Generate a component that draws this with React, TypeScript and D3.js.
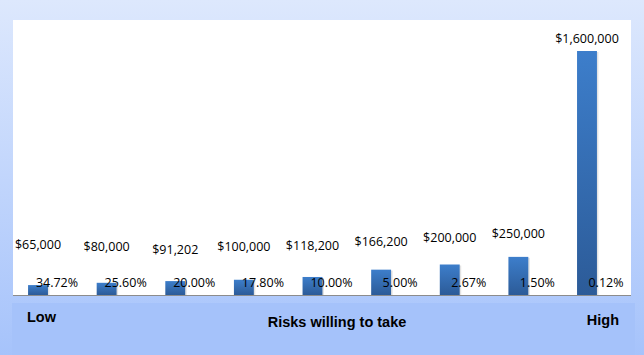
import React from 'react';
import {scaleBand, scaleLinear} from 'd3';

// 투자 금액 vs 확률 (risk)
const categories = ['r1', 'r2', 'r3', 'r4', 'r5', 'r6', 'r7', 'r8', 'r9'];
const amounts = [65000, 80000, 91202, 100000, 118200, 166200, 200000, 250000, 1600000];
const amountLabels = ['$65,000', '$80,000', '$91,202', '$100,000', '$118,200', '$166,200', '$200,000', '$250,000', '$1,600,000'];
const percentLabels = ['34.72%', '25.60%', '20.00%', '17.80%', '10.00%', '5.00%', '2.67%', '1.50%', '0.12%'];
// 라벨 높이 (값 단위, 엑셀에서 수동 배치된 위치)
const amountLabelLevels = [332000, 318000, 298000, 318000, 324000, 350000, 378000, 404000, 1680000];

const W = 644;
const H = 355;

const App = () => {
    const x = scaleBand()
        .domain(categories)
        .range([3.7, 621.3])
        .paddingInner(0.71)
        .paddingOuter(0.355);

    const y = scaleLinear()
        .domain([0, 1600000])
        .range([295, 51]);

    const bw = x.bandwidth();

    return (
        <svg width={W} height={H} style={{position: 'absolute', left: 0, top: 0}}>
            <defs>
                <linearGradient id="bg" x1="0" y1="0" x2="0" y2="1">
                    <stop offset="0" stopColor="#dde8fd"/>
                    <stop offset="1" stopColor="#a6c3fb"/>
                </linearGradient>
                <linearGradient id="bar" x1="0" y1="0" x2="0" y2="1">
                    <stop offset="0" stopColor="#3d7ecb"/>
                    <stop offset="1" stopColor="#2c5b98"/>
                </linearGradient>
            </defs>
            <rect x={0} y={0} width={W} height={H} fill="url(#bg)"/>
            <rect x={12} y={303} width={623} height={52} fill="#a5c2fa"/>
            <rect x={13} y={20} width={618} height={275} fill="#ffffff"/>

            {amounts.map((v, i) => (
                <g key={categories[i]}>
                    <rect x={x(categories[i])! + 1.5} y={y(v) + 1} width={bw} height={295 - y(v)} fill="#c8c8c8" opacity={0.5}/>
                    <rect x={x(categories[i])} y={y(v)} width={bw} height={295 - y(v)} fill="url(#bar)"/>
                </g>
            ))}

            <line x1={13} x2={631} y1={295.5} y2={295.5} stroke="#8c8c8c" strokeWidth={1}/>

            <g fontFamily="'Open Sans', 'DejaVu Sans', sans-serif" fontSize={12.5} fill="#000">
                {amountLabels.map((t, i) => (
                    <text key={t} x={x(categories[i])! + bw / 2} y={y(amountLabelLevels[i])} textAnchor="middle" dominantBaseline="central">{t}</text>
                ))}
                {percentLabels.map((t, i) => (
                    <text key={t} x={x(categories[i])! + bw / 2 + 19} y={282} textAnchor="middle" dominantBaseline="central">{t}</text>
                ))}
            </g>

            <g fontFamily="'Liberation Sans', Arial, sans-serif" fontWeight="bold" fontSize={14.5} fill="#000">
                <text x={27} y={322}>Low</text>
                <text x={337} y={327} textAnchor="middle">Risks willing to take</text>
                <text x={619} y={325} textAnchor="end">High</text>
            </g>
        </svg>
    );
};

export default App;
